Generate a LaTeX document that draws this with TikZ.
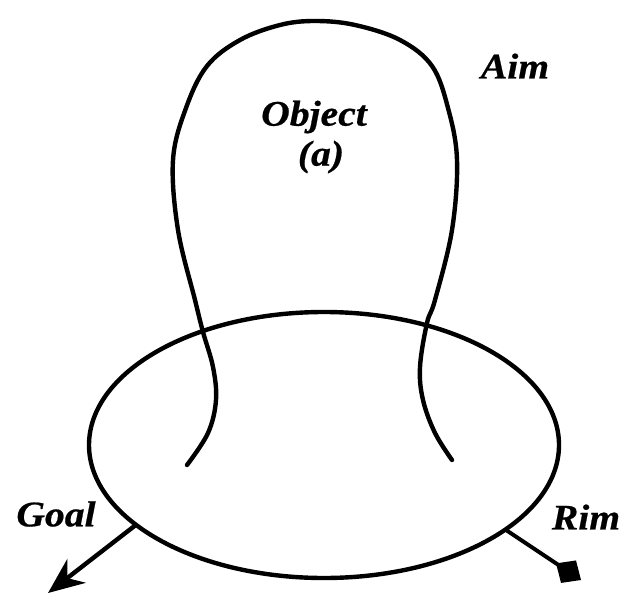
\documentclass[tikz,border=0pt]{standalone}
\usepackage{fontspec}
\usepackage{tikz}
\usetikzlibrary{arrows.meta, shapes.geometric}
\newfontfamily\labelfont{Liberation Serif}[FakeStretch=1.1, FakeBold=0.6]

\begin{document}
\begin{tikzpicture}[
  x=1pt, y=-1pt,
  outline/.style={line width=4.4pt, line cap=round, line join=round},
  lbl/.style={font=\labelfont\bfseries\itshape\fontsize{36}{40}\selectfont, inner sep=0pt, align=center},
  pointer/.style={-{Stealth[length=36pt 0, width=30pt 0]}, line width=4.4pt},
  knob/.style={-{Turned Square[length=30pt 0, width=27pt 0]}, line width=4pt}
]
  \useasboundingbox (0,0) rectangle (634,594);

  \node[draw, ellipse, outline, minimum width=470pt, minimum height=266pt, inner sep=0pt, outer sep=0pt] (ring) at (324,445) {};

  % the object loop
  \draw[outline] plot[smooth, tension=0.6] coordinates {
    (187,465) (208,433) (216,400) (213,367) (203,332) (195,300)
    (178,230) (173,160) (186,108) (207,66) (240,40) (280,25) (315,21)
    (355,25) (400,40) (432,66) (448,108) (457,160) (452,230) (435,300)
    (427,323) (420,367) (423,400) (435,433) (452,460)};

  \node[lbl] (object) at (314,117) {Object};
  \node[lbl] (tag) at (321,157) {(a)};
  \node[lbl] (aim) at (515,66) {Aim};
  \node[lbl] (goal) at (56,514) {Goal};
  \node[lbl] (rimtxt) at (586,517) {Rim};

  \coordinate (goalend) at (48,593);
  \coordinate (rimend) at (581,580);
  \draw[pointer] (ring.203) -- (goalend);
  \draw[knob] (ring.335) -- (rimend);
\end{tikzpicture}
\end{document}
